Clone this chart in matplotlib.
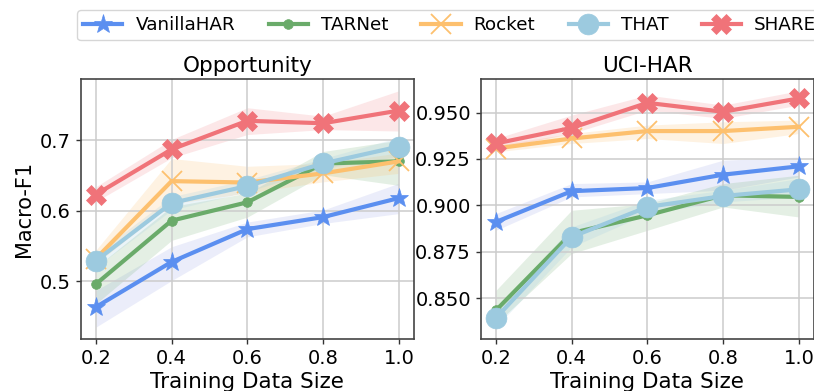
import numpy as np
import matplotlib
matplotlib.use('Agg')
import matplotlib.pyplot as plt

sizes = [0.2, 0.4, 0.6, 0.8, 1.0]
methods = ['VanillaHAR', 'TARNet', 'Rocket', 'THAT', 'SHARE']

# Opportunity: mean, lower, upper
opp_mean = {
    'VanillaHAR': [0.4635, 0.5275, 0.574, 0.591, 0.618],
    'TARNet':     [0.496, 0.586, 0.612, 0.667, 0.670],
    'Rocket':     [0.532, 0.642, 0.640, 0.653, 0.670],
    'THAT':       [0.529, 0.611, 0.635, 0.667, 0.691],
    'SHARE':      [0.623, 0.687, 0.7275, 0.724, 0.742],
}
opp_low = {
    'VanillaHAR': [0.435, 0.501, 0.563, 0.582, 0.596],
    'TARNet':     [0.468, 0.558, 0.591, 0.651, 0.636],
    'Rocket':     [0.525, 0.610, 0.625, 0.641, 0.653],
    'THAT':       [0.520, 0.601, 0.627, 0.660, 0.677],
    'SHARE':      [0.613, 0.675, 0.708, 0.715, 0.713],
}
opp_high = {
    'VanillaHAR': [0.487, 0.549, 0.584, 0.601, 0.639],
    'TARNet':     [0.520, 0.606, 0.625, 0.684, 0.700],
    'Rocket':     [0.544, 0.674, 0.663, 0.667, 0.682],
    'THAT':       [0.539, 0.620, 0.644, 0.674, 0.704],
    'SHARE':      [0.634, 0.701, 0.746, 0.734, 0.770],
}

# UCI-HAR
uci_mean = {
    'VanillaHAR': [0.891, 0.9076, 0.9093, 0.9165, 0.921],
    'TARNet':     [0.8433, 0.885, 0.8946, 0.9054, 0.9045],
    'Rocket':     [0.9306, 0.936, 0.940, 0.940, 0.9423],
    'THAT':       [0.8392, 0.8829, 0.8991, 0.905, 0.9086],
    'SHARE':      [0.9333, 0.9417, 0.9552, 0.9504, 0.9576],
}
uci_low = {
    'VanillaHAR': [0.8865, 0.9045, 0.9063, 0.9081, 0.9153],
    'TARNet':     [0.8361, 0.874, 0.8865, 0.8991, 0.8937],
    'Rocket':     [0.9288, 0.9333, 0.936, 0.9333, 0.9387],
    'THAT':       [0.8343, 0.8775, 0.8955, 0.9018, 0.9045],
    'SHARE':      [0.9306, 0.9387, 0.9513, 0.9468, 0.954],
}
uci_high = {
    'VanillaHAR': [0.8955, 0.9117, 0.9126, 0.9243, 0.926],
    'TARNet':     [0.8541, 0.8973, 0.9009, 0.9117, 0.9162],
    'Rocket':     [0.9324, 0.9387, 0.9432, 0.945, 0.9459],
    'THAT':       [0.8433, 0.8883, 0.9027, 0.9081, 0.9144],
    'SHARE':      [0.936, 0.9486, 0.9594, 0.954, 0.9617],
}

colors = {'VanillaHAR': '#5b8ff0', 'TARNet': '#6aab6a', 'Rocket': '#fdc06e',
          'THAT': '#9ccadf', 'SHARE': '#f07379'}
band_colors = {'VanillaHAR': '#6070d8', 'TARNet': '#6aab6a', 'Rocket': '#fdc06e',
               'THAT': '#9ccadf', 'SHARE': '#f07379'}
band_alpha = {'VanillaHAR': 0.12, 'TARNet': 0.18, 'Rocket': 0.2,
              'THAT': 0.2, 'SHARE': 0.17}
markers = {'VanillaHAR': ('*', 14), 'TARNet': ('o', 7), 'Rocket': ('x', 14),
           'THAT': ('o', 15), 'SHARE': ('X', 14)}

fig = plt.figure(figsize=(8.14, 3.91), dpi=100)
ax1 = fig.add_axes([0.0991, 0.133, 0.4095, 0.665])
ax2 = fig.add_axes([0.5905, 0.133, 0.4095, 0.665])

def draw(ax, mean, low, high, title):
    for m in methods:
        c = colors[m]
        ax.fill_between(sizes, low[m], high[m], color=band_colors[m],
                        alpha=band_alpha[m], lw=0)
        mk, ms = markers[m]
        ax.plot(sizes, mean[m], color=c, lw=3, marker=mk, markersize=ms,
                markeredgewidth=1.3 if mk == 'x' else 0.5, label=m)
    ax.set_title(title, fontsize=15.5, pad=5)
    ax.set_xlabel('Training Data Size', fontsize=15.5, labelpad=3)
    ax.set_xticks(sizes)
    ax.grid(True, color='#cccccc', lw=1.1)
    ax.tick_params(labelsize=14, length=3.5, width=1, pad=3.5, color='#333333')
    for s in ax.spines.values():
        s.set_color('#444444')
        s.set_linewidth(1.2)

draw(ax1, opp_mean, opp_low, opp_high, 'Opportunity')
draw(ax2, uci_mean, uci_low, uci_high, 'UCI-HAR')
ax1.set_yticks([0.5, 0.6, 0.7])
ax2.set_yticks([0.85, 0.875, 0.9, 0.925, 0.95])
ax2.yaxis.set_major_formatter(matplotlib.ticker.FormatStrFormatter('%.3f'))
ax1.set_ylabel('Macro-F1', fontsize=15, labelpad=4)

handles, labels = ax1.get_legend_handles_labels()
fig.legend(handles, labels, loc='upper left', ncol=5, fontsize=13.2,
           bbox_to_anchor=(0.095, 0.974), borderaxespad=0,
           handlelength=2.13, handletextpad=0.71, columnspacing=1.82,
           borderpad=0.33, frameon=True, edgecolor='#cccccc')

fig.savefig('out.png', dpi=100)
